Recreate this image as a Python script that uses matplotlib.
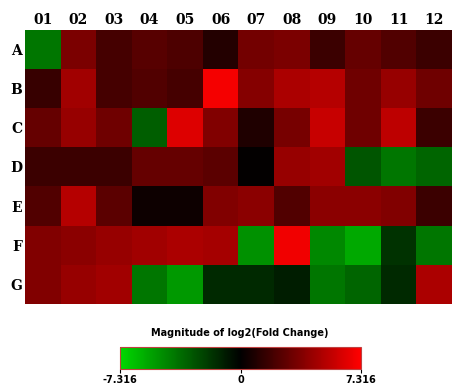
import numpy as np
import matplotlib
matplotlib.use("Agg")
import matplotlib.pyplot as plt
from matplotlib.colors import LinearSegmentedColormap

cols = ["01", "02", "03", "04", "05", "06", "07", "08", "09", "10", "11", "12"]
rows = ["A", "B", "C", "D", "E", "F", "G"]
row_A = [-4.0, 3.5, 2.0, 2.5, 2.2, 1.0, 3.3, 3.5, 1.7, 2.9, 2.3, 1.7]
row_B = [1.6, 4.6, 2.0, 2.3, 2.0, 7.0, 3.8, 4.9, 5.2, 3.2, 4.3, 3.2]
row_C = [2.9, 4.3, 3.2, -3.2, 6.3, 3.7, 0.9, 3.4, 5.7, 3.2, 5.4, 1.7]
row_D = [1.7, 1.7, 1.7, 2.9, 2.9, 2.6, 0.1, 4.3, 4.6, -2.9, -4.0, -3.4]
row_E = [2.3, 5.2, 2.6, 0.4, 0.4, 3.7, 4.0, 2.3, 4.0, 4.0, 3.7, 1.7]
row_F = [3.7, 4.0, 4.3, 4.6, 4.9, 4.7, -4.9, 6.9, -4.6, -5.7, -1.7, -4.0]
row_G = [3.7, 4.3, 4.6, -4.0, -5.2, -1.4, -1.4, -1.0, -4.0, -3.4, -1.4, 4.9]
vmin, vmax = -7.316, 7.316
cbar_title = "Magnitude of log2(Fold Change)"

data = np.array([row_A, row_B, row_C, row_D, row_E, row_F, row_G])

cmap = LinearSegmentedColormap.from_list(
    "gbr", [(0.0, (0.0, 0.85, 0.0)), (0.5, (0.0, 0.0, 0.0)), (1.0, (1.0, 0.0, 0.0))])

fig = plt.figure(figsize=(4.53, 3.88), dpi=100)
ax = fig.add_axes([25 / 453, 84 / 388, 427 / 453, 274 / 388])
im = ax.imshow(data, cmap=cmap, vmin=vmin, vmax=vmax, aspect="auto",
               interpolation="nearest")
ax.set_xticks(range(len(cols)))
ax.set_xticklabels(cols, family="DejaVu Serif", fontweight="bold", fontsize=10)
ax.set_yticks(range(len(rows)))
ax.set_yticklabels(rows, family="DejaVu Serif", fontweight="bold", fontsize=10)
ax.xaxis.tick_top()
ax.tick_params(length=0, pad=2)
for s in ax.spines.values():
    s.set_visible(False)

cax = fig.add_axes([120 / 453, 19 / 388, 241 / 453, 22 / 388])
cb = fig.colorbar(im, cax=cax, orientation="horizontal")
cb.set_ticks([vmin, 0, vmax])
cb.set_ticklabels(["-7.316", "0", "7.316"])
cax.tick_params(labelsize=7, length=3, pad=1)
for t in cax.get_xticklabels():
    t.set_fontweight("bold")
cb.outline.set_edgecolor("#c04040")
cb.outline.set_linewidth(0.8)
fig.text(240 / 453, 1 - 333 / 388, cbar_title, ha="center", va="center",
         fontsize=7, fontweight="bold")

fig.savefig("out.png", dpi=100)
